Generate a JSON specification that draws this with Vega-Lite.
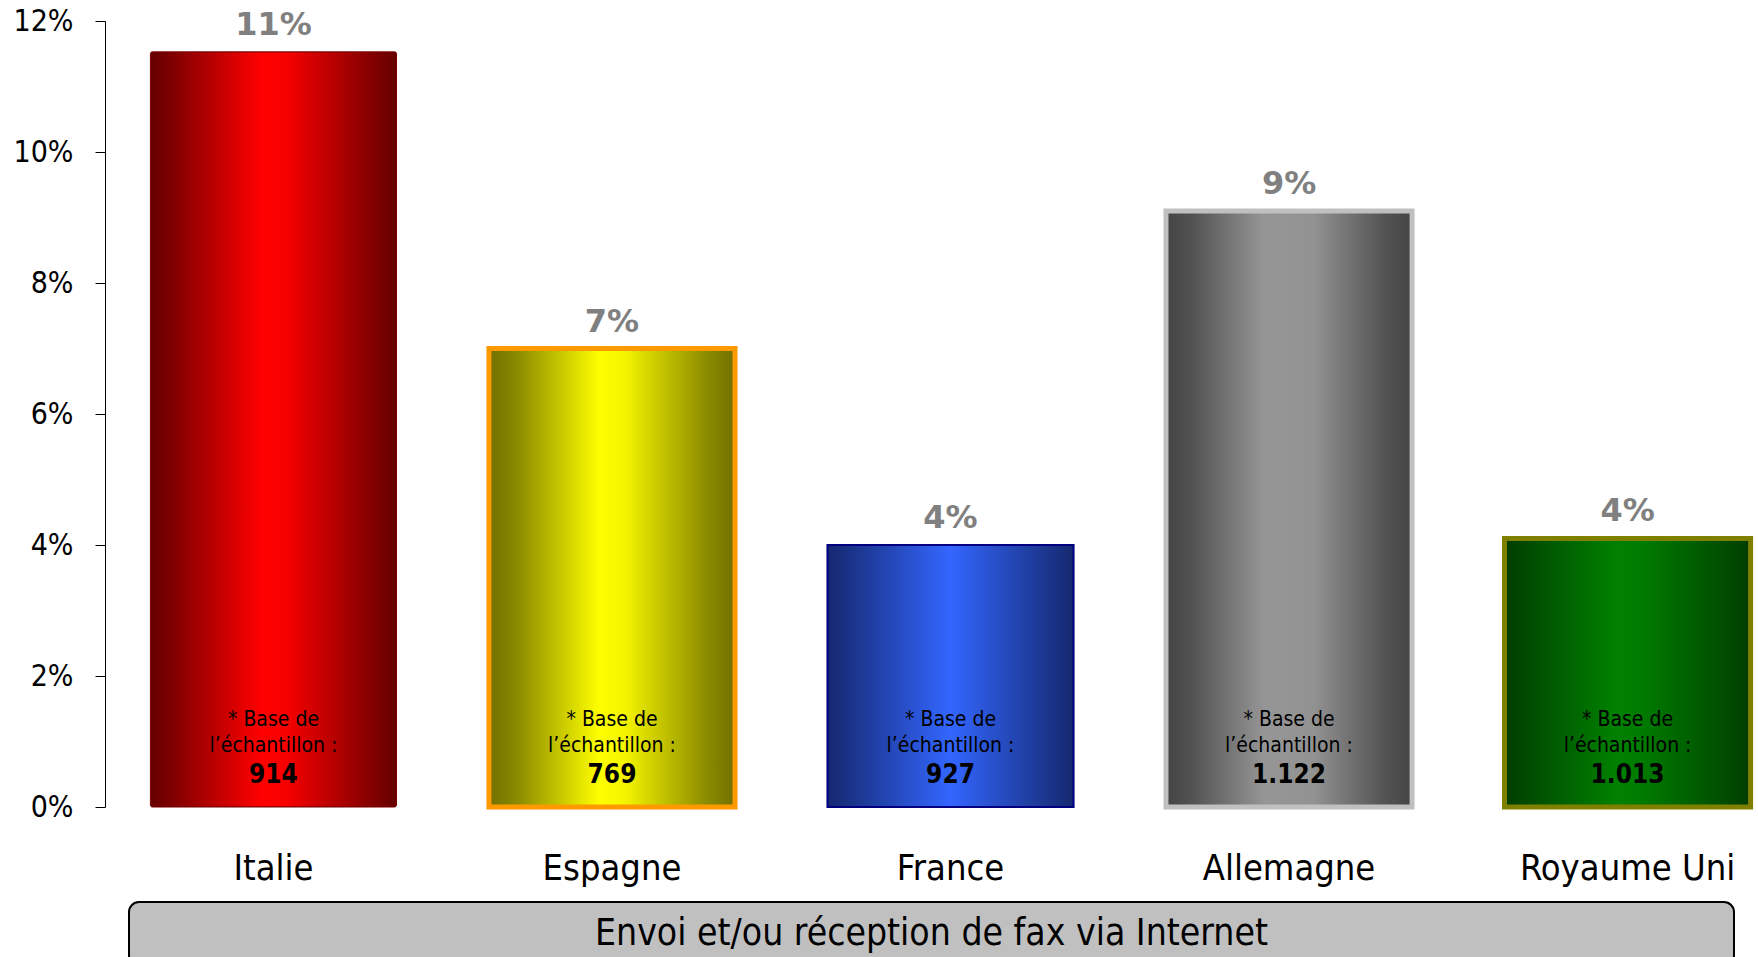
{
  "$schema": "https://vega.github.io/schema/vega-lite/v6.json",
  "background": "white",
  "padding": {"left": 13, "top": 6, "right": 0, "bottom": 0},
  "config": {"font": "DejaVu Sans Condensed", "view": {"stroke": null}},
  "datasets": {
    "bars": [
      {"country": "Italie", "value": 0.1153, "label": "11%", "base": "914"},
      {"country": "Espagne", "value": 0.07, "label": "7%", "base": "769"},
      {"country": "France", "value": 0.04, "label": "4%", "base": "927"},
      {"country": "Allemagne", "value": 0.091, "label": "9%", "base": "1.122"},
      {"country": "Royaume Uni", "value": 0.041, "label": "4%", "base": "1.013"}
    ]
  },
  "spacing": 15,
  "vconcat": [
    {
      "width": 1653,
      "height": 786,
      "data": {"name": "bars"},
      "encoding": {
        "x": {
          "field": "country",
          "type": "nominal",
          "sort": null,
          "scale": {"paddingInner": 0.273, "paddingOuter": 0.078, "align": 0.86},
          "axis": {"title": null, "domain": false, "ticks": false, "tickSize": 0, "labelFontSize": 36, "labelColor": "#000000", "labelPadding": 44, "labelAngle": 0, "labelLimit": 0}
        }
      },
      "layer": [
        {
          "transform": [{"filter": "datum.country === 'Italie'"}],
          "mark": {"type": "bar", "cornerRadius": 2, "stroke": "#7a0000", "strokeWidth": 1,
            "fill": {"gradient": "linear", "x1": 0, "y1": 0, "x2": 1, "y2": 0, "stops": [
              {"offset": 0, "color": "#650000"}, {"offset": 0.12, "color": "#8a0000"}, {"offset": 0.45, "color": "#ff0000"}, {"offset": 0.55, "color": "#f80000"}, {"offset": 0.88, "color": "#8a0000"}, {"offset": 1, "color": "#650000"}]}},
          "encoding": {
            "y": {"field": "value", "type": "quantitative",
              "scale": {"domain": [0, 0.12], "nice": false},
              "axis": {"title": null, "grid": false, "values": [0, 0.02, 0.04, 0.06, 0.08, 0.1, 0.12], "format": ".0%", "domainColor": "#000000", "tickColor": "#000000", "tickSize": 10, "labelFontSize": 30, "labelColor": "#000000", "labelPadding": 22}}
          }
        },
        {
          "transform": [{"filter": "datum.country === 'Espagne'"}],
          "mark": {"type": "bar", "stroke": "#ff9900", "strokeWidth": 5,
            "fill": {"gradient": "linear", "x1": 0, "y1": 0, "x2": 1, "y2": 0, "stops": [
              {"offset": 0, "color": "#707000"}, {"offset": 0.12, "color": "#8c8c00"}, {"offset": 0.45, "color": "#ffff00"}, {"offset": 0.55, "color": "#f5f500"}, {"offset": 0.88, "color": "#8c8c00"}, {"offset": 1, "color": "#707000"}]}},
          "encoding": {"y": {"field": "value", "type": "quantitative"}}
        },
        {
          "transform": [{"filter": "datum.country === 'France'"}],
          "mark": {"type": "bar", "stroke": "#000080", "strokeWidth": 2,
            "fill": {"gradient": "linear", "x1": 0, "y1": 0, "x2": 1, "y2": 0, "stops": [
              {"offset": 0, "color": "#152870"}, {"offset": 0.12, "color": "#1c3790"}, {"offset": 0.5, "color": "#3366ff"}, {"offset": 0.88, "color": "#1c3790"}, {"offset": 1, "color": "#152870"}]}},
          "encoding": {"y": {"field": "value", "type": "quantitative"}}
        },
        {
          "transform": [{"filter": "datum.country === 'Allemagne'"}],
          "mark": {"type": "bar", "stroke": "#c0c0c0", "strokeWidth": 5,
            "fill": {"gradient": "linear", "x1": 0, "y1": 0, "x2": 1, "y2": 0, "stops": [
              {"offset": 0, "color": "#444444"}, {"offset": 0.12, "color": "#555555"}, {"offset": 0.4, "color": "#969696"}, {"offset": 0.6, "color": "#929292"}, {"offset": 0.88, "color": "#555555"}, {"offset": 1, "color": "#444444"}]}},
          "encoding": {"y": {"field": "value", "type": "quantitative"}}
        },
        {
          "transform": [{"filter": "datum.country === 'Royaume Uni'"}],
          "mark": {"type": "bar", "stroke": "#808000", "strokeWidth": 5,
            "fill": {"gradient": "linear", "x1": 0, "y1": 0, "x2": 1, "y2": 0, "stops": [
              {"offset": 0, "color": "#003c00"}, {"offset": 0.12, "color": "#004f00"}, {"offset": 0.45, "color": "#008000"}, {"offset": 0.55, "color": "#007c00"}, {"offset": 0.88, "color": "#004f00"}, {"offset": 1, "color": "#003c00"}]}},
          "encoding": {"y": {"field": "value", "type": "quantitative"}}
        },
        {
          "mark": {"type": "text", "baseline": "alphabetic", "dy": -17, "font": "DejaVu Sans", "fontSize": 32, "fontWeight": "bold", "color": "#808080"},
          "encoding": {"y": {"field": "value", "type": "quantitative"}, "text": {"field": "label"}}
        },
        {
          "mark": {"type": "text", "baseline": "alphabetic", "dy": -81, "fontSize": 21, "color": "#000000", "text": "* Base de"},
          "encoding": {"y": {"datum": 0, "type": "quantitative"}}
        },
        {
          "mark": {"type": "text", "baseline": "alphabetic", "dy": -55, "fontSize": 21, "color": "#000000", "text": "l’échantillon :"},
          "encoding": {"y": {"datum": 0, "type": "quantitative"}}
        },
        {
          "mark": {"type": "text", "baseline": "alphabetic", "dy": -24, "fontSize": 26, "fontWeight": "bold", "color": "#000000"},
          "encoding": {"y": {"datum": 0, "type": "quantitative"}, "text": {"field": "base"}}
        }
      ]
    },
    {
      "spacing": 0,
      "hconcat": [
        {
          "width": 23,
          "height": 64,
          "data": {"values": [{"s": ""}]},
          "mark": {"type": "text"},
          "encoding": {"text": {"field": "s"}}
        },
        {
          "width": 1605,
          "height": 64,
          "view": {"fill": "#c0c0c0", "stroke": "#000000", "strokeWidth": 2, "cornerRadius": 10},
          "data": {"values": [{"title": "Envoi et/ou réception de fax via Internet"}]},
          "mark": {"type": "text", "fontSize": 37, "color": "#000000", "baseline": "middle", "align": "center"},
          "encoding": {"text": {"field": "title"}}
        }
      ]
    }
  ]
}
